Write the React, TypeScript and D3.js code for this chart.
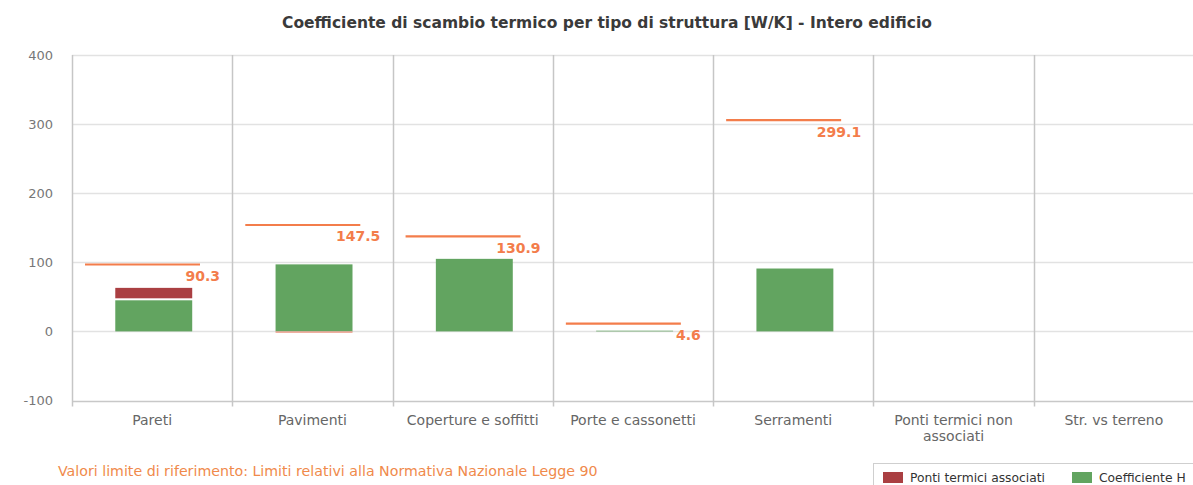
import React, { useEffect, useRef } from "react";
import * as d3 from "d3";

// categories (x axis)
const categories = [
  "Pareti",
  "Pavimenti",
  "Coperture e soffitti",
  "Porte e cassonetti",
  "Serramenti",
  "Ponti termici non associati",
  "Str. vs terreno",
];

// series values [W/K]
const coefficienteH = [45, 97, 105, 1, 91, 0, 0];
const pontiTermici = [18, -2, 0, 0, 0, 0, 0];
// limit reference values (null = no limit)
const limiti: (number | null)[] = [90.3, 147.5, 130.9, 4.6, 299.1, null, null];

const yTicks = [-100, 0, 100, 200, 300, 400];

const App: React.FC = () => {
  const svgRef = useRef<SVGSVGElement | null>(null);

  useEffect(() => {
    document.body.style.margin = "0";
    const svg = d3.select(svgRef.current);
    svg.selectAll("*").remove();

    const width = 1193;
    const height = 485;
    const margin = { top: 55, right: -1, bottom: 85, left: 72 };
    const font = "'DejaVu Sans', sans-serif";

    const xScale = d3
      .scaleBand()
      .domain(categories)
      .range([margin.left, width - margin.right])
      .padding(0);

    const yScale = d3
      .scaleLinear()
      .domain([-100, 400])
      .range([height - margin.bottom + 0.5, margin.top]);

    const bw = xScale.bandwidth();

    // title
    svg
      .append("text")
      .attr("x", 607)
      .attr("y", 28)
      .attr("text-anchor", "middle")
      .attr("font-family", font)
      .attr("font-size", 15.5)
      .attr("font-weight", "bold")
      .attr("fill", "#3a3a3a")
      .text("Coefficiente di scambio termico per tipo di struttura [W/K] - Intero edificio");

    // horizontal grid
    svg
      .append("g")
      .selectAll("line")
      .data(yTicks)
      .enter()
      .append("line")
      .attr("x1", margin.left)
      .attr("x2", width)
      .attr("y1", (d) => Math.round(yScale(d)) + 0.5)
      .attr("y2", (d) => Math.round(yScale(d)) + 0.5)
      .attr("stroke", (d) => (d === -100 ? "#c8c8c8" : "#e2e2e2"))
      .attr("stroke-width", 1.3);

    // vertical grid (category boundaries)
    const bounds = categories.map((c) => xScale(c)!);
    svg
      .append("g")
      .selectAll("line")
      .data(bounds)
      .enter()
      .append("line")
      .attr("x1", (d) => Math.round(d) + 0.5)
      .attr("x2", (d) => Math.round(d) + 0.5)
      .attr("y1", margin.top)
      .attr("y2", yScale(-100) + 6)
      .attr("stroke", "#c6c6c6")
      .attr("stroke-width", 1.5);

    // y axis labels
    svg
      .append("g")
      .selectAll("text")
      .data(yTicks)
      .enter()
      .append("text")
      .attr("x", 53)
      .attr("y", (d) => yScale(d) + 4.5)
      .attr("text-anchor", "end")
      .attr("font-family", font)
      .attr("font-size", 13)
      .attr("fill", "#777")
      .text((d) => d);

    // x axis labels (wrap long label)
    const xl = svg.append("g");
    categories.forEach((c) => {
      const cx = xScale(c)! + bw / 2;
      const lines = c === "Ponti termici non associati" ? ["Ponti termici non", "associati"] : [c];
      const t = xl
        .append("text")
        .attr("x", cx)
        .attr("y", 425)
        .attr("text-anchor", "middle")
        .attr("font-family", font)
        .attr("font-size", 14)
        .attr("fill", "#666");
      lines.forEach((l, i) => {
        t.append("tspan").attr("x", cx).attr("dy", i === 0 ? 0 : 16).text(l);
      });
    });

    const green = "#62a460";
    const red = "#aa3f42";
    const orange = "#f37d4b";

    const barX = (c: string) => xScale(c)! + bw * 0.27;
    const barW = bw * 0.48;

    // Coefficiente H bars
    svg
      .append("g")
      .selectAll("rect")
      .data(categories.map((c, i) => ({ c, v: coefficienteH[i] })))
      .enter()
      .append("rect")
      .attr("x", (d) => barX(d.c))
      .attr("y", (d) => yScale(Math.max(0, d.v)))
      .attr("width", barW)
      .attr("height", (d) => Math.abs(yScale(d.v) - yScale(0)))
      .attr("fill", green);

    // Ponti termici associati bars (stacked above green / below zero)
    svg
      .append("g")
      .selectAll("rect")
      .data(categories.map((c, i) => ({ c, v: pontiTermici[i], base: coefficienteH[i] })))
      .enter()
      .filter((d) => d.v !== 0)
      .append("rect")
      .attr("x", (d) => barX(d.c))
      .attr("y", (d) => (d.v > 0 ? yScale(d.base + d.v) : yScale(0)))
      .attr("width", barW)
      .attr("height", (d) => Math.abs(yScale(d.v) - yScale(0)) - (d.v > 0 ? 2 : 0))
      .attr("fill", (d) => (d.v > 0 ? red : "#ec9a86"));

    // limit lines + labels
    const lim = svg.append("g");
    categories.forEach((c, i) => {
      const v = limiti[i];
      if (v === null) return;
      const x0 = xScale(c)!;
      const y = yScale(v) - 4.5;
      lim
        .append("line")
        .attr("x1", x0 + 13)
        .attr("x2", x0 + 128)
        .attr("y1", y)
        .attr("y2", y)
        .attr("stroke", orange)
        .attr("stroke-width", 2.2);
      lim
        .append("text")
        .attr("x", x0 + 148)
        .attr("y", yScale(v) + 12)
        .attr("text-anchor", "end")
        .attr("font-family", font)
        .attr("font-size", 14)
        .attr("font-weight", "bold")
        .attr("fill", orange)
        .text(v.toFixed(1));
    });

    // footer note
    svg
      .append("text")
      .attr("x", 58)
      .attr("y", 476)
      .attr("font-family", font)
      .attr("font-size", 14.2)
      .attr("fill", "#f08a4b")
      .text("Valori limite di riferimento: Limiti relativi alla Normativa Nazionale Legge 90");

    // legend
    const lg = svg.append("g");
    lg.append("rect")
      .attr("x", 873.5)
      .attr("y", 463.5)
      .attr("width", 330)
      .attr("height", 30)
      .attr("fill", "#fff")
      .attr("stroke", "#cfcfcf");
    const items = [
      { name: "Ponti termici associati", color: red, x: 883 },
      { name: "Coefficiente H", color: green, x: 1072 },
    ];
    items.forEach((it) => {
      lg.append("rect")
        .attr("x", it.x)
        .attr("y", 472)
        .attr("width", 20)
        .attr("height", 11)
        .attr("fill", it.color);
      lg.append("text")
        .attr("x", it.x + 27)
        .attr("y", 482)
        .attr("font-family", font)
        .attr("font-size", 12.3)
        .attr("fill", "#333")
        .text(it.name);
    });
  }, []);

  return (
    <div>
      <svg ref={svgRef} width={1193} height={485} style={{ display: "block" }}></svg>
    </div>
  );
};

export default App;
